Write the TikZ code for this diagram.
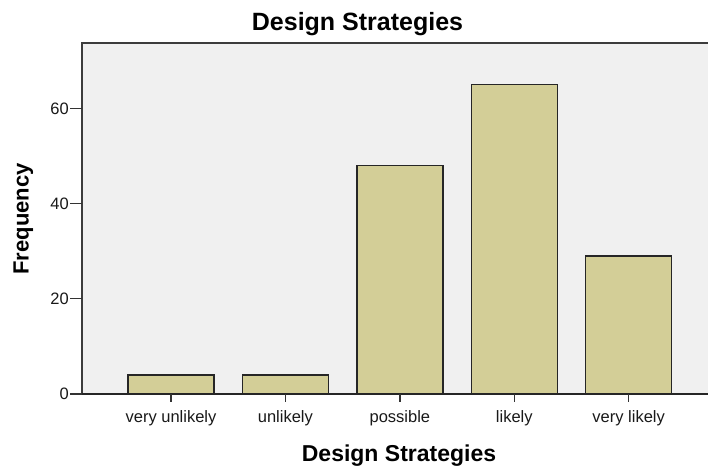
\documentclass[tikz,border=0pt]{standalone}
\usepackage{fontspec}
\setmainfont{Liberation Sans}
\definecolor{plotbg}{HTML}{F0F0F0}
\definecolor{barfill}{HTML}{D3CE97}
\definecolor{framegray}{HTML}{3C3C3C}
\tikzset{
  frameline/.style={draw=framegray, line width=1.3pt},
  axisline/.style={draw=black!85, line width=1.3pt},
  ticklen/.style={draw=black!80, line width=1.3pt},
  barbox/.style={fill=barfill, draw=black!85, line width=1.2pt},
  ticklabel/.style={font=\fontsize{16.5}{19}\selectfont, inner sep=0pt, text=black!90},
  axistitle/.style={font=\fontsize{23}{27}\selectfont\bfseries, inner sep=0pt},
  charttitle/.style={font=\fontsize{25}{30}\selectfont\bfseries, inner sep=0pt}
}
\begin{document}
\begin{tikzpicture}[x=1pt,y=-1pt]
\useasboundingbox[fill=white] (0,0) rectangle (708,470);
% plot area
\fill[plotbg] (82,43) rectangle (708,394);
\draw[frameline] (708,43) -- (82,43) -- (82,394);
% bars (scale 4.76 px per unit, zero at y=394)
\foreach \c/\v in {171/4, 285.4/4, 399.9/48, 514.3/65, 628.7/29}{
  \draw[barbox] ({\c-43},394) rectangle ({\c+43},{394-4.76*\v});
}
% x axis
\draw[axisline] (82,394) -- (708,394);
% y ticks and labels
\foreach \v in {0,20,40,60}{
  \draw[ticklen] (70,{394-4.76*\v}) -- (82,{394-4.76*\v});
  \node[ticklabel, anchor=east] (y\v) at (69,{394-4.76*\v}) {\v};
}
% x ticks and labels
\foreach \c/\t/\n in {171/very unlikely/a, 285.4/unlikely/b, 399.9/possible/c, 514.3/likely/d, 628.7/very likely/e}{
  \draw[ticklen] (\c,394) -- (\c,402);
  \node[ticklabel, anchor=base] (x\n) at (\c,422) {\t};
}
% titles
\node[charttitle, anchor=base] (title) at (357.5,31) {Design Strategies};
\node[axistitle, anchor=base] (xtitle) at (399,461.5) {Design Strategies};
\node[axistitle, anchor=base, rotate=90, font=\fontsize{22}{26}\selectfont\bfseries] (ytitle) at (28.5,219) {Frequency};
\end{tikzpicture}
\end{document}
